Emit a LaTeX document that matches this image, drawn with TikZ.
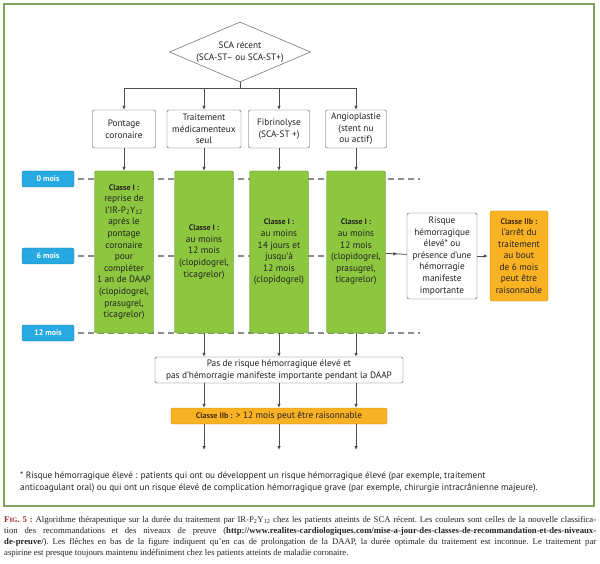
\documentclass[tikz,border=0pt]{standalone}
\usepackage{fontspec}
\setmainfont{PT Sans}
\newfontfamily\legende{Liberation Serif}
\usetikzlibrary{shapes.geometric,arrows.meta,decorations.markings}

\definecolor{cadre}{HTML}{7FA35A}
\definecolor{vert}{HTML}{8DC63F}
\definecolor{vertf}{HTML}{5E8C2A}
\definecolor{oran}{HTML}{F9B224}
\definecolor{oranf}{HTML}{C98A10}
\definecolor{bleu}{HTML}{27A9E1}
\definecolor{bleuf}{HTML}{1B7DB0}
\definecolor{trait}{HTML}{4D4D4D}
\definecolor{gris}{HTML}{8C8C8C}
\definecolor{texte}{HTML}{222222}
\definecolor{brun}{HTML}{4A2E05}
\definecolor{rouge}{HTML}{9B2A1E}

\newcommand{\classe}[1]{{\fontsize{8}{11.6}\selectfont\bfseries #1}}

\begin{document}
\begin{tikzpicture}[x=1pt, y=-1pt,
    every node/.style={font=\fontsize{9.3}{11.6}\selectfont, text=texte, align=center, inner sep=0pt},
    wbox/.style={draw=trait, fill=white, rounded corners=2pt},
    gbox/.style={draw=vertf, fill=vert, rounded corners=2pt, minimum width=59pt, minimum height=162pt},
    obox/.style={draw=oranf, fill=oran, rounded corners=2pt},
    mbox/.style={draw=bleuf, fill=bleu, rounded corners=2pt, minimum width=52pt, minimum height=16pt, text=white, font=\fontsize{8}{9}\selectfont\bfseries},
    fl/.style={draw=trait, line width=0.8pt, -{Latex[length=4pt,width=3.6pt]}},
    mi/.style={draw=trait, line width=0.8pt, postaction={decorate}, decoration={markings, mark=at position 0.55 with {\arrow{Latex[length=4pt,width=3.6pt]}}}},
    tiret/.style={draw=gris, line width=1.1pt, dash pattern=on 6pt off 4pt, shorten <=4pt}]
    \useasboundingbox (0,0) rectangle (600,564);
    \draw[cadre, line width=1.2pt] (4,4) rectangle (594,506);

    % axe du temps
    \node[mbox] (m0) at (48,179) {0 mois};
    \node[mbox] (m6) at (48,256) {6 mois};
    \node[mbox] (m12) at (48,333) {12 mois};
    \coordinate (c0) at (420,179);
    \coordinate (c6) at (357,256);
    \coordinate (c12) at (420,333);
    \draw[tiret] (m0.east) -- (c0);
    \draw[tiret] (m6.east) -- (c6);
    \draw[tiret] (m12.east) -- (c12);

    \node[diamond, draw=trait, fill=white, aspect=2.35, minimum width=141pt, minimum height=60pt] (sca) at (240,52) {SCA récent\\(SCA-ST– ou SCA-ST+)};
    \coordinate (fourche) at (240,88);

    \node[wbox, minimum width=63pt, minimum height=38pt] (pont) at (124,129) {Pontage\\coronaire};
    \node[wbox, minimum width=74pt, minimum height=38pt] (med) at (204,129) {Traitement\\médicamenteux\\seul};
    \node[wbox, minimum width=61pt, minimum height=38pt] (fib) at (279,129) {Fibrinolyse\\(SCA-ST +)};
    \node[wbox, minimum width=61pt, minimum height=38pt] (angio) at (356,129) {Angioplastie\\(stent nu\\ou actif)};

    \node[gbox] (g1) at (124,252) {\classe{Classe I :}\\reprise de\\l’IR-P\textsubscript{2}Y\textsubscript{12}\\après le\\pontage\\coronaire\\pour\\compléter\\1 an de DAAP\\(clopidogrel,\\prasugrel,\\ticagrelor)};
    \node[gbox] (g2) at (204,252) {\classe{Classe I :}\\au moins\\12 mois\\(clopidogrel,\\ticagrelor)};
    \node[gbox] (g3) at (279,252) {\classe{Classe I :}\\au moins\\14 jours et\\jusqu’à\\12 mois\\(clopidogrel)};
    \node[gbox] (g4) at (356,252) {\classe{Classe I :}\\au moins\\12 mois\\(clopidogrel,\\prasugrel,\\ticagrelor)};

    \node[wbox, minimum width=70pt, minimum height=86pt] (risque) at (442,256) {Risque\\hémorragique\\élevé* ou\\présence d’une\\hémorragie\\manifeste\\importante};
    \node[obox, minimum width=58pt, minimum height=90pt] (arret) at (519,256) {\classe{\color{brun}Classe IIb :}\\l’arrêt du\\traitement\\au bout\\de 6 mois\\peut être\\raisonnable};

    \node[wbox, minimum width=248pt, minimum height=26pt] (pas) at (279,370) {Pas de risque hémorragique élevé et\\pas d’hémorragie manifeste importante pendant la DAAP};
    \node[obox, minimum width=216pt, minimum height=16pt] (prol) at (279,416) {\classe{\color{brun}Classe IIb :} > 12 mois peut être raisonnable};
    \coordinate (bas) at (0,450);

    % liaisons
    \draw[trait, line width=0.8pt] (sca.south) -- (fourche);
    \foreach \t in {pont,med,fib,angio}
        \draw[fl] (fourche) -| (\t);
    \draw[fl] (pont) -- (g1);
    \draw[fl] (med) -- (g2);
    \draw[fl] (fib) -- (g3);
    \draw[fl] (angio) -- (g4);
    \draw[mi] (g4) -- (risque);
    \draw[fl, shorten >=2pt] (risque) -- (arret);
    \foreach \g in {g2,g3,g4} {
        \draw[fl] (\g.south) -- (\g.south |- pas.north);
        \draw[fl] (\g.south |- pas.south) -- (\g.south |- prol.north);
        \draw[fl] (\g.south |- prol.south) -- (\g.south |- bas);
    }

    \node[anchor=west, align=left, font=\fontsize{9.2}{12.5}\selectfont] (note) at (20,482) {* Risque hémorragique élevé : patients qui ont ou développent un risque hémorragique élevé (par exemple, traitement\\anticoagulant oral) ou qui ont un risque élevé de complication hémorragique grave (par exemple, chirurgie intracrânienne majeure).};

    \node[anchor=north west, text width=592pt, align=justify, font=\legende\fontsize{8.7}{11}\selectfont] (fig) at (4,516) {\frenchspacing\tolerance=9999\hyphenpenalty=10000{\color{rouge}\bfseries F{\fontsize{6.8}{11}\selectfont IG}. 5 :} Algorithme thérapeutique sur la durée du traitement par IR-P\textsubscript{2}Y\textsubscript{12} chez les patients atteints de SCA récent. Les couleurs sont celles de la nouvelle classifica-\linebreak tion des recommandations et des niveaux de preuve ({\bfseries http://www.realites-cardiologiques.com/mise-a-jour-des-classes-de-recommandation-et-des-niveaux-}\linebreak{\bfseries de-preuve/}). Les flèches en bas de la figure indiquent qu’en cas de prolongation de la DAAP, la durée optimale du traitement est inconnue. Le traitement par\linebreak aspirine est presque toujours maintenu indéfiniment chez les patients atteints de maladie coronaire.};
\end{tikzpicture}
\end{document}
